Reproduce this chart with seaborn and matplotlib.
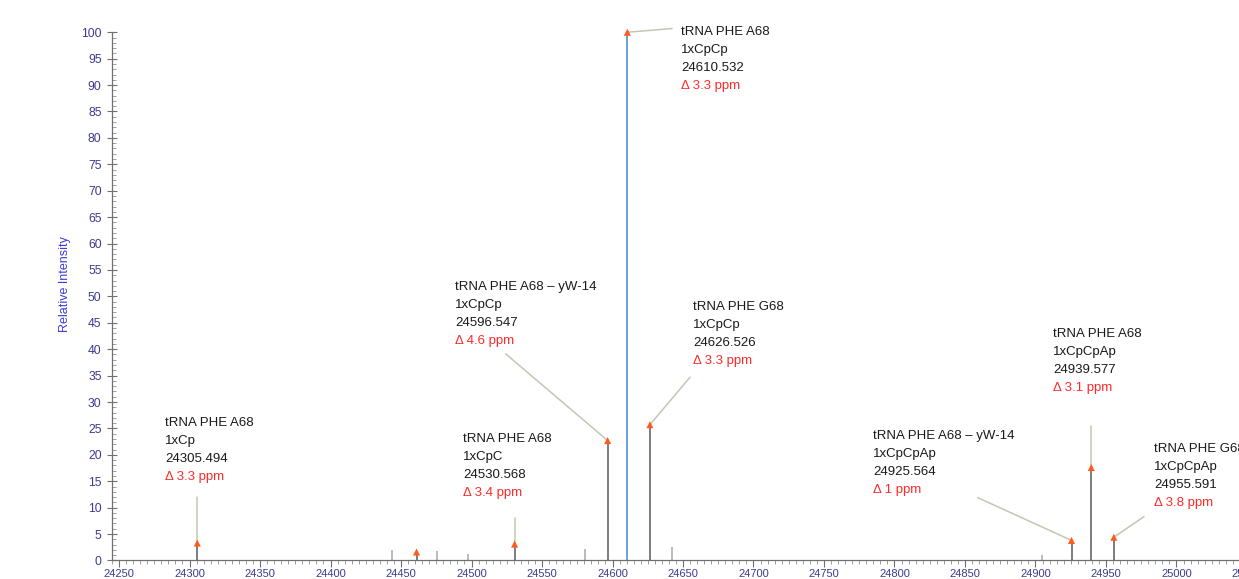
import numpy as np
import pandas as pd
import matplotlib
matplotlib.use("Agg")
import matplotlib.pyplot as plt
from matplotlib.ticker import MultipleLocator
import seaborn as sns

sns.set_theme(style="ticks")
plt.rcParams["font.family"] = ["Liberation Sans", "DejaVu Sans"]

# Spectrum sticks (deconvoluted mass, relative intensity)
peak_mz = [24305.494, 24443.6, 24461.0, 24475.5, 24497.5, 24530.568, 24580.5,
           24596.547, 24610.532, 24626.526, 24642.5, 24904.6, 24925.564,
           24939.577, 24955.591]
peak_int = [3.3, 1.9, 1.6, 1.7, 1.2, 3.1, 2.2, 22.7, 100.0, 25.7, 2.6, 1.0,
            3.8, 17.6, 4.4]
matched = [1, 0, 1, 0, 0, 1, 0, 1, 1, 1, 0, 0, 1, 1, 1]

# Annotated species
lab_mz = [24305.494, 24530.568, 24596.547, 24610.532, 24626.526, 24925.564,
          24939.577, 24955.591]
lab_int = [3.3, 3.1, 22.7, 100.0, 25.7, 3.8, 17.6, 4.4]
lab_name = ["tRNA PHE A68", "tRNA PHE A68", "tRNA PHE A68 – yW-14",
            "tRNA PHE A68", "tRNA PHE G68", "tRNA PHE A68 – yW-14",
            "tRNA PHE A68", "tRNA PHE G68"]
lab_mod = ["1xCp", "1xCpC", "1xCpCp", "1xCpCp", "1xCpCp", "1xCpCpAp",
           "1xCpCpAp", "1xCpCpAp"]
lab_ppm = ["3.3", "3.4", "4.6", "3.3", "3.3", "1", "3.1", "3.8"]

# label placement (data coords): text anchor and leader line start
txt_x = [24282.6, 24494.0, 24488.3, 24648.6, 24657.1, 24784.8, 24912.4, 24984.0]
txt_y = [26.4, 23.4, 52.2, 100.3, 48.4, 24.0, 43.3, 21.5]
lead_x = [24305.494, 24530.568, 24524.3, 24642.2, 24655.0, 24859.0, 24939.577, 24977.0]
lead_y = [12.1, 8.0, 39.1, 100.7, 34.7, 11.9, 25.5, 8.3]

df = pd.DataFrame({"mz": peak_mz, "intensity": peak_int, "matched": matched})

fig = plt.figure(figsize=(12.39, 5.79), dpi=100)
ax = fig.add_axes([0.0904, 0.032, 0.9274, 0.9123])

small = df[df["intensity"] < 100]
colors = ["#5a5a5a" if m else "#a8a8a8" for m in small["matched"]]
ax.vlines(small["mz"], 0, small["intensity"], colors=colors, lw=1.1, zorder=2)
top = df[df["intensity"] >= 100]
ax.vlines(top["mz"], 0, top["intensity"], colors="#5b9bd5", lw=1.3, zorder=2)

# leader lines
for x0, y0, x1, y1 in zip(lead_x, lead_y, lab_mz, lab_int):
    ax.plot([x0, x1], [y0, y1], color="#c3c7b2", lw=1.1, zorder=1, clip_on=False)

sns.scatterplot(data=df[df["matched"] == 1], x="mz", y="intensity", marker="^",
                color="#ff5a1f", s=26, edgecolor="none", ax=ax, zorder=4,
                clip_on=False)

line_step = 12.96
for i in range(len(lab_mz)):
    lines = [(lab_name[i], "#1a1a1a"), (lab_mod[i], "#1a1a1a"),
             (f"{lab_mz[i]:.3f}", "#1a1a1a"), (f"Δ {lab_ppm[i]} ppm", "#ff2a2a")]
    for k, (t, c) in enumerate(lines):
        ax.annotate(t, xy=(txt_x[i], txt_y[i]), xytext=(0, -1.3 - k * line_step),
                    textcoords="offset points", ha="left", va="center",
                    fontsize=9.5, color=c, annotation_clip=False)

ax.set_xlim(24245, 25060)
ax.set_ylim(0, 100)
ax.xaxis.set_major_locator(MultipleLocator(50))
ax.xaxis.set_minor_locator(MultipleLocator(5))
ax.yaxis.set_major_locator(MultipleLocator(5))
ax.yaxis.set_minor_locator(MultipleLocator(1))

tick_col = "#3b3b8f"
ax.tick_params(axis="x", which="major", direction="out", length=5, width=0.8,
               color="#707070", labelsize=8, labelcolor=tick_col, pad=1.5)
ax.tick_params(axis="x", which="minor", direction="out", length=3, width=0.6,
               color="#909090")
ax.tick_params(axis="y", which="major", direction="inout", length=7, width=0.8,
               color="#707070", labelsize=8.7, labelcolor=tick_col, pad=4)
ax.tick_params(axis="y", which="minor", direction="in", length=3, width=0.6,
               color="#909090")

for s in ["top", "right"]:
    ax.spines[s].set_visible(False)
for s in ["left", "bottom"]:
    ax.spines[s].set_color("#707070")
    ax.spines[s].set_linewidth(0.9)

ax.set_xlabel("")
ax.set_ylabel("Relative Intensity", fontsize=9, color="#3c3cd8")
ax.yaxis.set_label_coords(-0.036, 0.5235)

fig.savefig("out.png", dpi=100)
